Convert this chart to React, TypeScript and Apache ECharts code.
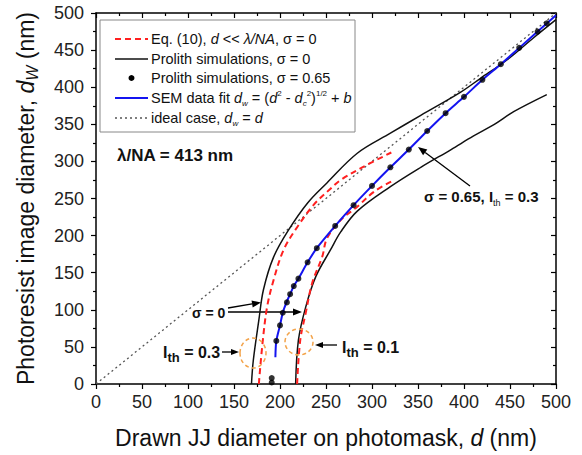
import React, { useEffect, useRef } from "react";
import * as echarts from "echarts";

// ---- data ----
const idealLine: number[][] = [[0, 0], [500, 500]];

// Prolith simulations, sigma = 0, I_th = 0.3 (left/upper black curve)
const prolithS0Ith03: number[][] = [
  [169, 0], [171, 32], [177, 86], [182, 127], [193, 171], [209, 207], [230, 244],
  [251, 271], [284, 311], [320, 338], [353, 362], [396, 393], [418, 412],
  [447, 437], [476, 467], [500, 491],
];

// Prolith simulations, sigma = 0, I_th = 0.1 (right/lower black curve)
const prolithS0Ith01: number[][] = [
  [217, 0], [220, 59], [228, 104], [239, 145], [255, 181], [266, 205], [284, 233],
  [320, 266], [353, 292], [386, 316], [410, 334], [433, 350], [454, 367], [490, 390],
];

// Eq. (10), I_th = 0.3
const eq10Ith03: number[][] = [
  [177, 0], [181, 55], [186, 104], [193, 140], [204, 181], [219, 212], [237, 242],
  [253, 261], [266, 275], [291, 293], [321, 312],
];

// Eq. (10), I_th = 0.1
const eq10Ith01: number[][] = [
  [218.6, 0], [222, 59], [228, 96], [235, 136], [246, 172], [251, 196], [266, 221],
  [284, 239], [302, 259], [321, 273],
];

// SEM data fit (blue)
const semFit: number[][] = [
  [195, 36], [196, 58], [200, 79], [203, 96], [207, 110], [211, 121], [215, 132],
  [220, 142], [230, 164], [240, 183], [260, 213], [280, 241], [300, 267], [320, 292],
  [340, 316], [360, 341], [380, 365], [400, 387], [420, 410], [440, 431], [460, 453],
  [480, 475], [500, 497],
];

// Prolith simulations, sigma = 0.65 (dots)
const prolithS065: number[][] = [
  [191, 2], [191, 8], [196, 58], [200, 79], [203, 96], [207.5, 110], [211, 121],
  [215, 132], [220, 142], [230, 164], [240, 183], [260, 213], [280, 241], [300, 267],
  [320, 292], [340, 316], [360, 341], [380, 365], [400, 387], [420, 410], [440, 431],
  [460, 453], [480, 475], [490, 486],
];

const xTicks = { min: 0, max: 500, interval: 50 };
const yTicks = { min: 0, max: 500, interval: 50 };

const FONT = "Liberation Sans, Arial, sans-serif";
const RED = "#ff2020";
const BLUE = "#1414f0";
const ORANGE = "#f3a34a";

function arrow(x1: number, y1: number, x2: number, y2: number, head = 9, w = 3.5) {
  const a = Math.atan2(y2 - y1, x2 - x1);
  const bx = x2 - head * Math.cos(a);
  const by = y2 - head * Math.sin(a);
  const px = -Math.sin(a) * w;
  const py = Math.cos(a) * w;
  return {
    type: "group",
    silent: true,
    children: [
      { type: "line", shape: { x1, y1, x2: bx, y2: by }, style: { stroke: "#000", lineWidth: 1.3 } },
      {
        type: "polygon",
        shape: { points: [[x2, y2], [bx + px, by + py], [bx - px, by - py]] },
        style: { fill: "#000" },
      },
    ],
  };
}

export default function App() {
  const ref = useRef<HTMLDivElement>(null);

  useEffect(() => {
    if (!ref.current) return;
    const chart = echarts.init(ref.current, undefined, { renderer: "svg" });

    const axisCommon = {
      type: "value",
      splitLine: { show: false },
      axisLine: { show: true, onZero: false, lineStyle: { color: "#000", width: 1.5 } },
    };

    const LF = 14.5;
    const legendRows = [39, 59, 78, 98, 118];
    const lx1 = 115, lx2 = 148, tx = 151;
    const legendText = (y: number, text: string) => ({
      type: "text",
      x: tx,
      y,
      style: {
        text,
        fill: "#111",
        font: `${LF}px ${FONT}`,
        verticalAlign: "middle",
        rich: {
          i: { fontStyle: "italic", fontSize: LF, fontFamily: FONT, fill: "#111", lineHeight: 18 },
          sub: { fontStyle: "italic", fontSize: 8, fontFamily: FONT, fill: "#111", verticalAlign: "bottom", lineHeight: 18 },
          sup: { fontSize: 8, fontFamily: FONT, fill: "#111", verticalAlign: "top", lineHeight: 18 },
          n: { fontSize: LF, fontFamily: FONT, fill: "#111", lineHeight: 18 },
        },
      },
    });

    const option: any = {
      animation: false,
      grid: { left: 96, right: 26, top: 13, bottom: 71 },
      xAxis: [
        {
          ...axisCommon,
          position: "bottom",
          ...xTicks,
          axisTick: { show: true, inside: false, length: 5, lineStyle: { color: "#000", width: 1.2 } },
          minorTick: { show: true, splitNumber: 2, length: 3, lineStyle: { color: "#000", width: 1.2 } },
          axisLabel: { fontSize: 18, color: "#222", fontFamily: FONT, margin: 9 },
          name: "Drawn JJ diameter on photomask, {i|d} (nm)",
          nameLocation: "middle",
          nameGap: 42,
          nameTextStyle: {
            fontSize: 23, color: "#111", fontFamily: FONT,
            rich: { i: { fontStyle: "italic", fontSize: 23, fontFamily: FONT, color: "#111" } },
          },
        },
        {
          ...axisCommon,
          position: "top",
          ...xTicks,
          axisTick: { show: true, inside: true, length: 5, lineStyle: { color: "#000", width: 1.2 } },
          minorTick: { show: true, splitNumber: 2, length: 3, lineStyle: { color: "#000", width: 1.2 } },
          axisLabel: { show: false },
        },
      ],
      yAxis: [
        {
          ...axisCommon,
          position: "left",
          ...yTicks,
          axisTick: { show: true, inside: false, length: 5, lineStyle: { color: "#000", width: 1.2 } },
          minorTick: { show: true, splitNumber: 2, length: 3, lineStyle: { color: "#000", width: 1.2 } },
          axisLabel: { fontSize: 18, color: "#222", fontFamily: FONT, margin: 12 },
          name: "Photoresist image diameter, {i|d}{sub|W} (nm)",
          nameLocation: "middle",
          nameGap: 56,
          nameTextStyle: {
            fontSize: 23, color: "#111", fontFamily: FONT, lineHeight: 28,
            rich: {
              i: { fontStyle: "italic", fontSize: 23, fontFamily: FONT, color: "#111", lineHeight: 28 },
              sub: { fontStyle: "italic", fontSize: 16, fontFamily: FONT, color: "#111", verticalAlign: "bottom", lineHeight: 28 },
            },
          },
        },
        {
          ...axisCommon,
          position: "right",
          ...yTicks,
          axisTick: { show: true, inside: true, length: 5, lineStyle: { color: "#000", width: 1.2 } },
          minorTick: { show: true, splitNumber: 2, length: 3, lineStyle: { color: "#000", width: 1.2 } },
          axisLabel: { show: false },
        },
      ],
      series: [
        {
          name: "ideal case", type: "line", data: idealLine, showSymbol: false, symbol: "none",
          lineStyle: { color: "#555", width: 1.3, type: [2, 3] }, z: 1,
        },
        {
          name: "Prolith sigma0 Ith0.3", type: "line", data: prolithS0Ith03, symbol: "none", smooth: 0.35,
          lineStyle: { color: "#111", width: 1.5 }, z: 2,
        },
        {
          name: "Prolith sigma0 Ith0.1", type: "line", data: prolithS0Ith01, symbol: "none", smooth: 0.35,
          lineStyle: { color: "#111", width: 1.5 }, z: 2,
        },
        {
          name: "Eq10 Ith0.3", type: "line", data: eq10Ith03, symbol: "none", smooth: 0.35,
          lineStyle: { color: RED, width: 2, type: [6, 4] }, z: 3,
        },
        {
          name: "Eq10 Ith0.1", type: "line", data: eq10Ith01, symbol: "none", smooth: 0.35,
          lineStyle: { color: RED, width: 2, type: [6, 4] }, z: 3,
        },
        {
          name: "SEM fit", type: "line", data: semFit, symbol: "none", smooth: 0.3,
          lineStyle: { color: BLUE, width: 2 }, z: 4,
        },
        {
          name: "Prolith sigma0.65", type: "scatter", data: prolithS065, symbol: "circle", symbolSize: 6,
          itemStyle: { color: "#000" }, z: 5,
        },
      ],
      graphic: [
        // legend box
        { type: "rect", shape: { x: 100, y: 20, width: 255, height: 112 }, style: { fill: "#fff", stroke: "#888", lineWidth: 1 }, z: 10 },
        { type: "line", shape: { x1: lx1, y1: legendRows[0], x2: lx2, y2: legendRows[0] }, style: { stroke: RED, lineWidth: 2, lineDash: [6, 4] }, z: 11 },
        { type: "line", shape: { x1: lx1, y1: legendRows[1], x2: lx2, y2: legendRows[1] }, style: { stroke: "#111", lineWidth: 1.5 }, z: 11 },
        { type: "circle", shape: { cx: (lx1 + lx2) / 2, cy: legendRows[2], r: 3 }, style: { fill: "#000" }, z: 11 },
        { type: "line", shape: { x1: lx1, y1: legendRows[3], x2: lx2, y2: legendRows[3] }, style: { stroke: BLUE, lineWidth: 2 }, z: 11 },
        { type: "line", shape: { x1: lx1, y1: legendRows[4], x2: lx2, y2: legendRows[4] }, style: { stroke: "#555", lineWidth: 1.3, lineDash: [2, 3] }, z: 11 },
        { ...legendText(legendRows[0], "{n|Eq. (10), }{i|d}{n| << }{i|λ/NA}{n|, σ = 0}"), z: 11 },
        { ...legendText(legendRows[1], "{n|Prolith simulations, σ = 0}"), z: 11 },
        { ...legendText(legendRows[2], "{n|Prolith simulations, σ = 0.65}"), z: 11 },
        { ...legendText(legendRows[3], "{n|SEM data fit }{i|d}{sub|w}{n| = (}{i|d}{sup|2}{n| - }{i|d}{sub|c}{sup|2}{n|)}{sup|1/2}{n| + }{i|b}"), z: 11 },
        { ...legendText(legendRows[4], "{n|ideal case, }{i|d}{sub|w}{n| = }{i|d}"), z: 11 },

        // annotations
        { type: "text", x: 117, y: 155, style: { text: "λ/NA = 413 nm", font: `bold 17px ${FONT}`, fill: "#111", verticalAlign: "middle" }, z: 12 },
        { type: "text", x: 192, y: 313, style: { text: "σ = 0", font: `bold 14px ${FONT}`, fill: "#111", verticalAlign: "middle" }, z: 12 },
        { ...arrow(228, 308, 261, 302.5), z: 12 },
        { ...arrow(228, 312, 302, 312), z: 12 },
        {
          type: "text", x: 163, y: 352,
          style: {
            text: "{b|I}{s|th}{b| = 0.3}", verticalAlign: "middle", fill: "#111",
            rich: {
              b: { font: `bold 16px ${FONT}`, fill: "#111", lineHeight: 24 },
              s: { font: `bold 13px ${FONT}`, fill: "#111", verticalAlign: "bottom", lineHeight: 24 },
            },
          }, z: 12,
        },
        { ...arrow(222, 352, 239, 352, 8, 3), z: 12 },
        { type: "ellipse", shape: { cx: 253, cy: 353, rx: 13, ry: 15 }, style: { fill: "none", stroke: ORANGE, lineWidth: 1.5, lineDash: [4, 3] }, z: 12 },
        { type: "ellipse", shape: { cx: 299, cy: 342, rx: 14, ry: 13 }, style: { fill: "none", stroke: ORANGE, lineWidth: 1.5, lineDash: [4, 3] }, z: 12 },
        { ...arrow(337, 345, 315, 345, 8, 3), z: 12 },
        {
          type: "text", x: 342, y: 347,
          style: {
            text: "{b|I}{s|th}{b| = 0.1}", verticalAlign: "middle", fill: "#111",
            rich: {
              b: { font: `bold 16px ${FONT}`, fill: "#111", lineHeight: 24 },
              s: { font: `bold 13px ${FONT}`, fill: "#111", verticalAlign: "bottom", lineHeight: 24 },
            },
          }, z: 12,
        },
        {
          type: "text", x: 424, y: 196,
          style: {
            text: "{b|σ = 0.65, I}{s|th}{b| = 0.3}", verticalAlign: "middle", fill: "#111",
            rich: {
              b: { font: `bold 15px ${FONT}`, fill: "#111", lineHeight: 22 },
              s: { font: `9px ${FONT}`, fill: "#111", verticalAlign: "bottom", lineHeight: 22 },
            },
          }, z: 12,
        },
        { ...arrow(470, 186, 418, 147), z: 12 },
      ],
    };

    chart.setOption(option);
    return () => chart.dispose();
  }, []);

  return (
    <div
      ref={ref}
      style={{ position: "absolute", left: 0, top: 0, width: 582, height: 455, background: "#fff" }}
    />
  );
}
